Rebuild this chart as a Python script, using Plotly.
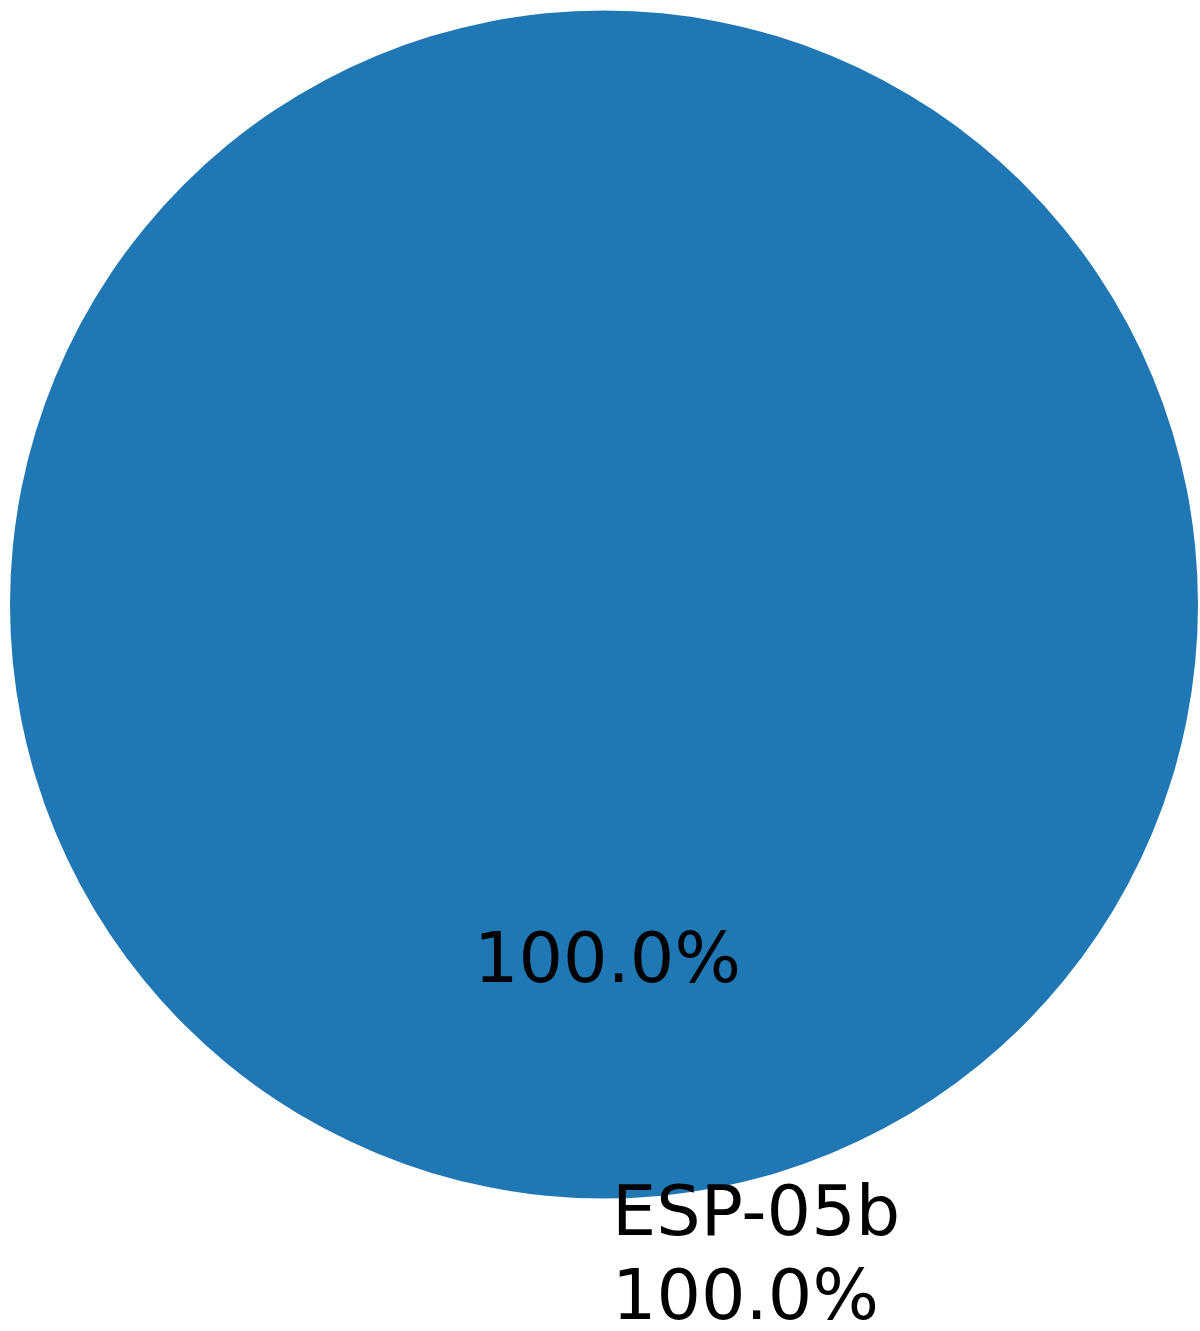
import plotly.graph_objects as go

labels = ["ESP-05b"]
values = [100]

W, H = 1200, 1331
total = sum(values)
pcts = [v / total * 100 for v in values]

# circle geometry in pixels
cx, cy, r = 604, 604.5, 594

fig = go.Figure(go.Pie(
    labels=labels,
    values=values,
    sort=False,
    direction="counterclockwise",
    rotation=90,
    textinfo="none",
    marker=dict(colors=["#1f77b4"], line=dict(width=0)),
    domain=dict(x=[(cx - r) / W, (cx + r) / W], y=[1 - (cy + r) / H, 1 - (cy - r) / H]),
    showlegend=False,
    hoverinfo="label+percent",
))

font = dict(family="DejaVu Sans", size=70, color="black")
annotations = [
    dict(x=607 / W, y=1 - 958 / H, xref="paper", yref="paper", text=f"{pcts[0]:.1f}%",
         showarrow=False, xanchor="center", yanchor="middle", font=font),
    dict(x=610 / W, y=1 - 1211 / H, xref="paper", yref="paper", text=labels[0],
         showarrow=False, xanchor="left", yanchor="middle", font=font),
    dict(x=610 / W, y=1 - 1295 / H, xref="paper", yref="paper", text=f"{pcts[0]:.1f}%",
         showarrow=False, xanchor="left", yanchor="middle", font=font),
]

fig.update_layout(
    width=W, height=H,
    margin=dict(l=0, r=0, t=0, b=0),
    paper_bgcolor="white", plot_bgcolor="white",
    annotations=annotations,
)

fig.write_html(
    "out.html",
    config={"displayModeBar": False},
    post_script="document.body.style.margin='0';document.body.style.overflow='hidden';",
)
